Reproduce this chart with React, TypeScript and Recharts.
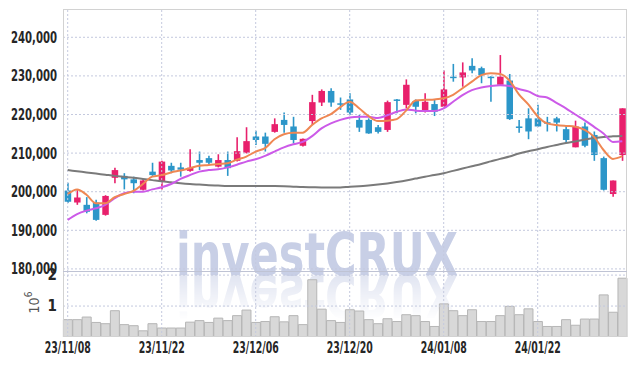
import React from "react";
import { ComposedChart, Bar, Line, XAxis, YAxis, ReferenceLine } from "recharts";

const dates = [
  "23/11/08", "23/11/09", "23/11/10", "23/11/13", "23/11/14", "23/11/15", "23/11/16", "23/11/17", "23/11/20", "23/11/21",
  "23/11/22", "23/11/23", "23/11/24", "23/11/27", "23/11/28", "23/11/29", "23/11/30", "23/12/01", "23/12/04", "23/12/05",
  "23/12/06", "23/12/07", "23/12/08", "23/12/11", "23/12/12", "23/12/13", "23/12/14", "23/12/15", "23/12/18", "23/12/19",
  "23/12/20", "23/12/21", "23/12/22", "23/12/26", "23/12/27", "23/12/28", "24/01/02", "24/01/03", "24/01/04", "24/01/05",
  "24/01/08", "24/01/09", "24/01/10", "24/01/11", "24/01/12", "24/01/15", "24/01/16", "24/01/17", "24/01/18", "24/01/19",
  "24/01/22", "24/01/23", "24/01/24", "24/01/25", "24/01/26", "24/01/29", "24/01/30", "24/01/31", "24/02/01", "24/02/02",
];

const opens = [
  200300, 197200, 196600, 197200, 194000, 203600, 204100, 203200, 200500, 205200,
  202600, 206700, 206300, 205400, 208200, 208700, 206500, 208200, 208000, 210100,
  214300, 214300, 215500, 218600, 216900, 211900, 218300, 223100, 226100, 222900,
  223900, 218600, 218600, 216700, 216000, 223900, 222500, 223500, 221000, 222700,
  222000, 229800, 229600, 232600, 232000, 229800, 227700, 228800, 216900, 219000,
  219000, 218000, 219000, 216200, 211500, 216900, 214700, 208700, 199400, 209500,
];
const highs = [
  202300, 200400, 198600, 197900, 199100, 206200, 204800, 203900, 203200, 207500,
  208000, 207500, 207500, 211000, 210400, 209300, 209700, 210400, 214100, 216700,
  215800, 215300, 219000, 220500, 219400, 213800, 225100, 226500, 226800, 224400,
  225500, 219900, 219000, 217300, 223600, 224000, 229100, 223900, 225500, 223800,
  231400, 233100, 233500, 234600, 232400, 229900, 235400, 230500, 218600, 221600,
  222500, 219400, 219400, 216900, 218400, 217900, 215600, 209100, 202900, 221600,
];
const lows = [
  197100, 196600, 194400, 192500, 193800, 202200, 200600, 199600, 200300, 204100,
  200600, 204800, 203900, 205200, 205600, 206900, 206300, 204100, 207800, 209900,
  212100, 210400, 215300, 215300, 212500, 211700, 217300, 222200, 222000, 221200,
  219900, 215500, 215000, 215100, 215500, 220300, 221600, 220300, 220500, 219600,
  222000, 228500, 227200, 230700, 228100, 223300, 227400, 218600, 215300, 213600,
  216800, 215600, 215600, 212600, 211500, 211500, 208000, 200300, 198700, 208000,
];
const closes = [
  197400, 198500, 194800, 192700, 198900, 205600, 203200, 202200, 202900, 204300,
  207800, 205500, 205700, 206200, 207500, 207500, 208200, 206100, 210500, 213100,
  213400, 212400, 217500, 217300, 213400, 213700, 223200, 226100, 223100, 222700,
  220500, 216600, 215100, 215500, 223200, 223800, 227700, 222000, 223300, 220700,
  226500, 229700, 230900, 231400, 230200, 229700, 229800, 218800, 216800, 215600,
  216900, 217900, 217900, 213400, 216900, 211900, 209500, 200500, 202900, 221600,
];

const volumes = [
  560000, 560000, 645000, 470000, 430000, 850000, 400000, 365000, 200000, 430000,
  290000, 290000, 290000, 480000, 530000, 470000, 610000, 530000, 690000, 870000,
  470000, 500000, 655000, 490000, 690000, 400000, 1850000, 900000, 530000, 470000,
  880000, 840000, 560000, 430000, 590000, 500000, 720000, 690000, 500000, 340000,
  1070000, 850000, 690000, 880000, 500000, 500000, 690000, 990000, 720000, 910000,
  500000, 340000, 340000, 560000, 380000, 580000, 580000, 1360000, 800000, 1900000,
];

const maShort = [
  199400, 200600, 199200, 197000, 197000, 198600, 199400, 200200, 202000, 203900,
  204300, 205000, 205500, 206100, 206700, 206900, 207200, 207400, 208300, 209100,
  210400, 211300, 213600, 214900, 215300, 215300, 217300, 219000, 220100, 221900,
  223300, 221600, 219600, 218300, 218400, 218800, 221000, 223600, 223800, 223900,
  224200, 225100, 226800, 228500, 230200, 230700, 230500, 228800, 225200, 222600,
  219500, 217700, 217300, 217050, 216850, 216000, 214200, 210800, 208500, 209200,
];
const maMid = [
  192700, 194200, 195100, 195700, 196600, 198300, 199600, 200000, 200000, 200600,
  201150, 202000, 203300, 204300, 205200, 205600, 205800, 206300, 207000, 207800,
  208400, 209300, 210400, 211500, 212300, 212900, 214400, 216400, 217700, 218600,
  219200, 219400, 219400, 219100, 219800, 220700, 221300, 221000, 220900, 220900,
  221600, 223300, 225000, 226300, 227000, 227400, 227600, 227400, 226600, 226000,
  224800, 224400, 223000, 221600, 220000, 218500, 216800, 215100, 212900, 213100,
];
const maLong = [
  205600, 205300, 205000, 204700, 204400, 204100, 203850, 203600, 203300, 203000,
  202700, 202450, 202200, 202000, 201850, 201700, 201600, 201500, 201450, 201450,
  201450, 201450, 201450, 201400, 201300, 201200, 201150, 201100, 201100, 201100,
  201300, 201400, 201600, 201850, 202150, 202500, 202900, 203400, 203900, 204300,
  204800, 205400, 206000, 206600, 207200, 207850, 208500, 209100, 209900, 210500,
  211000, 211600, 212100, 212600, 213000, 213500, 213900, 214200, 214350, 214450,
];

const priceTicks = [180000, 190000, 200000, 210000, 220000, 230000, 240000];
const volumeTicks = [1000000, 2000000];
const dateTicks = ["23/11/08", "23/11/22", "23/12/06", "23/12/20", "24/01/08", "24/01/22"];

const UP = "#e8206c";
const DOWN = "#2c96c9";
const GRID = "#c4c9de";
const FONT = '"DejaVu Sans Condensed", "Liberation Sans", sans-serif';

const data = dates.map((d, i) => ({
  date: d,
  open: opens[i],
  high: highs[i],
  low: lows[i],
  close: closes[i],
  range: [lows[i], highs[i]],
  volume: volumes[i],
  maShort: maShort[i],
  maMid: maMid[i],
  maLong: maLong[i],
}));

const Candle = (props: any) => {
  const { x, y, width, height, payload } = props;
  if (x == null || y == null) return null;
  const { open, close, high, low } = payload;
  const color = close >= open ? UP : DOWN;
  const top = Math.min(y, y + height);
  const h = Math.abs(height);
  const span = high - low || 1;
  const toY = (v: number) => top + ((high - v) / span) * h;
  const cx = x + width / 2;
  const b1 = toY(Math.max(open, close));
  const b2 = toY(Math.min(open, close));
  const bw = 6.5;
  return (
    <g>
      <line x1={cx} x2={cx} y1={top} y2={top + h} stroke={color} strokeWidth={1.6} />
      <rect x={cx - bw / 2} y={b1} width={bw} height={Math.max(b2 - b1, 1.5)} fill={color} />
    </g>
  );
};

// tick labels squeezed to the narrow face of the original
const PriceTick = (props: any) => {
  const { x, y, payload } = props;
  return (
    <text x={x} y={y} dy="0.36em" textAnchor="end" fontFamily={FONT} fontWeight="bold" fontSize={15} fill="#262626"
      textLength={46} lengthAdjust="spacingAndGlyphs">
      {payload.value.toLocaleString("en-US")}
    </text>
  );
};

const VolTick = (props: any) => {
  const { x, y, payload } = props;
  return (
    <text x={x} y={y} dy="0.36em" textAnchor="end" fontFamily={FONT} fontWeight="bold" fontSize={15} fill="#262626">
      {String(payload.value / 1000000)}
    </text>
  );
};

const DateTick = (props: any) => {
  const { x, y, payload } = props;
  return (
    <text x={x} y={y} dy="0.74em" textAnchor="middle" fontFamily={FONT} fontWeight="bold" fontSize={15} fill="#262626"
      textLength={46} lengthAdjust="spacingAndGlyphs">
      {payload.value}
    </text>
  );
};

const VolumeUnit = (props: any) => {
  const vb = props.viewBox || {};
  const cx = (vb.x || 0) + 34;
  const cy = (vb.y || 0) + (vb.height || 0) / 2 - 2;
  return (
    <text
      x={cx}
      y={cy}
      transform={`rotate(-90 ${cx} ${cy})`}
      textAnchor="middle"
      dominantBaseline="central"
      fontFamily={FONT}
      fontSize={14}
      fill="#555"
    >
      <tspan>10</tspan>
      <tspan dy={-6} fontSize={10}>6</tspan>
    </text>
  );
};

export default function App() {
  return (
    <div style={{ position: "absolute", left: 0, top: 0, width: 637, height: 366, background: "#fff" }}>
      <svg width={637} height={366} style={{ position: "absolute", left: 0, top: 0 }}>
        <defs>
          <linearGradient id="fade" gradientUnits="userSpaceOnUse" x1="0" y1="275" x2="0" y2="320">
            <stop offset="0" stopColor="#fff" stopOpacity={0.55} />
            <stop offset="1" stopColor="#fff" stopOpacity={0} />
          </linearGradient>
          <mask id="reflect">
            <rect x={0} y={275} width={637} height={60} fill="url(#fade)" />
          </mask>
        </defs>
        <text x={176} y={275} fontFamily={FONT} fontWeight="bold" fontSize={58} fill="#c8cfe6"
          textLength={282} lengthAdjust="spacingAndGlyphs">
          investCRUX
        </text>
        <g mask="url(#reflect)">
          <text x={176} y={275} transform="translate(0 550) scale(1 -1)" fontFamily={FONT} fontWeight="bold"
            fontSize={58} fill="#c8cfe6" textLength={282} lengthAdjust="spacingAndGlyphs">
            investCRUX
          </text>
        </g>
      </svg>

      <div style={{ position: "absolute", left: 0, top: 0 }}>
        <ComposedChart width={637} height={280} data={data} margin={{ top: 9, right: 10, bottom: 8, left: 0 }}>
          {priceTicks.map((t) => (
            <ReferenceLine key={t} y={t} yAxisId="price" stroke={GRID} strokeDasharray="2 2" />
          ))}
          {dateTicks.map((d) => (
            <ReferenceLine key={d} x={d} yAxisId="price" stroke={GRID} strokeDasharray="2 2" />
          ))}
          <XAxis dataKey="date" hide />
          <YAxis
            yAxisId="price"
            domain={[179200, 247330]}
            allowDataOverflow
            ticks={priceTicks}
            interval={0}
            width={63}
            axisLine={false}
            tickLine={false}
            tickSize={0}
            tickMargin={6}
            tick={<PriceTick />}
          />
          <Bar yAxisId="price" dataKey="range" shape={Candle} isAnimationActive={false} />
          <Line yAxisId="price" type="monotone" dataKey="maLong" stroke="#7a7a7a" strokeWidth={2} dot={false} isAnimationActive={false} />
          <Line yAxisId="price" type="monotone" dataKey="maMid" stroke="#cc5ae8" strokeWidth={2} dot={false} isAnimationActive={false} />
          <Line yAxisId="price" type="monotone" dataKey="maShort" stroke="#ef8753" strokeWidth={2} dot={false} isAnimationActive={false} />
        </ComposedChart>
      </div>

      <div style={{ position: "absolute", left: 0, top: 262 }}>
        <ComposedChart width={637} height={104} data={data} margin={{ top: 10, right: 10, bottom: 0, left: 0 }} barCategoryGap="4%">
          {volumeTicks.map((t) => (
            <ReferenceLine key={t} y={t} yAxisId="vol" stroke={GRID} strokeDasharray="2 2" />
          ))}
          {dateTicks.map((d) => (
            <ReferenceLine key={d} x={d} yAxisId="vol" stroke={GRID} strokeDasharray="2 2" />
          ))}
          <XAxis
            dataKey="date"
            ticks={dateTicks}
            interval={0}
            height={29}
            axisLine={false}
            tickLine={false}
            tickSize={0}
            tickMargin={5}
            tick={<DateTick />}
          />
          <YAxis
            yAxisId="vol"
            domain={[0, 2100000]}
            allowDataOverflow
            ticks={volumeTicks}
            interval={0}
            width={63}
            axisLine={false}
            tickLine={false}
            tickSize={0}
            tickMargin={6}
            tick={<VolTick />}
            label={<VolumeUnit />}
          />
          <Bar yAxisId="vol" dataKey="volume" fill="#d8d8d8" stroke="#b6b6b6" strokeWidth={1} isAnimationActive={false} />
        </ComposedChart>
      </div>

      <div
        style={{
          position: "absolute",
          left: 63,
          top: 9,
          width: 564,
          height: 328,
          boxSizing: "border-box",
          border: "1px solid #d2d2d2",
          pointerEvents: "none",
        }}
      />
      <div style={{ position: "absolute", left: 63, top: 271, width: 564, height: 1, background: "#bfc3d4" }} />
    </div>
  );
}
